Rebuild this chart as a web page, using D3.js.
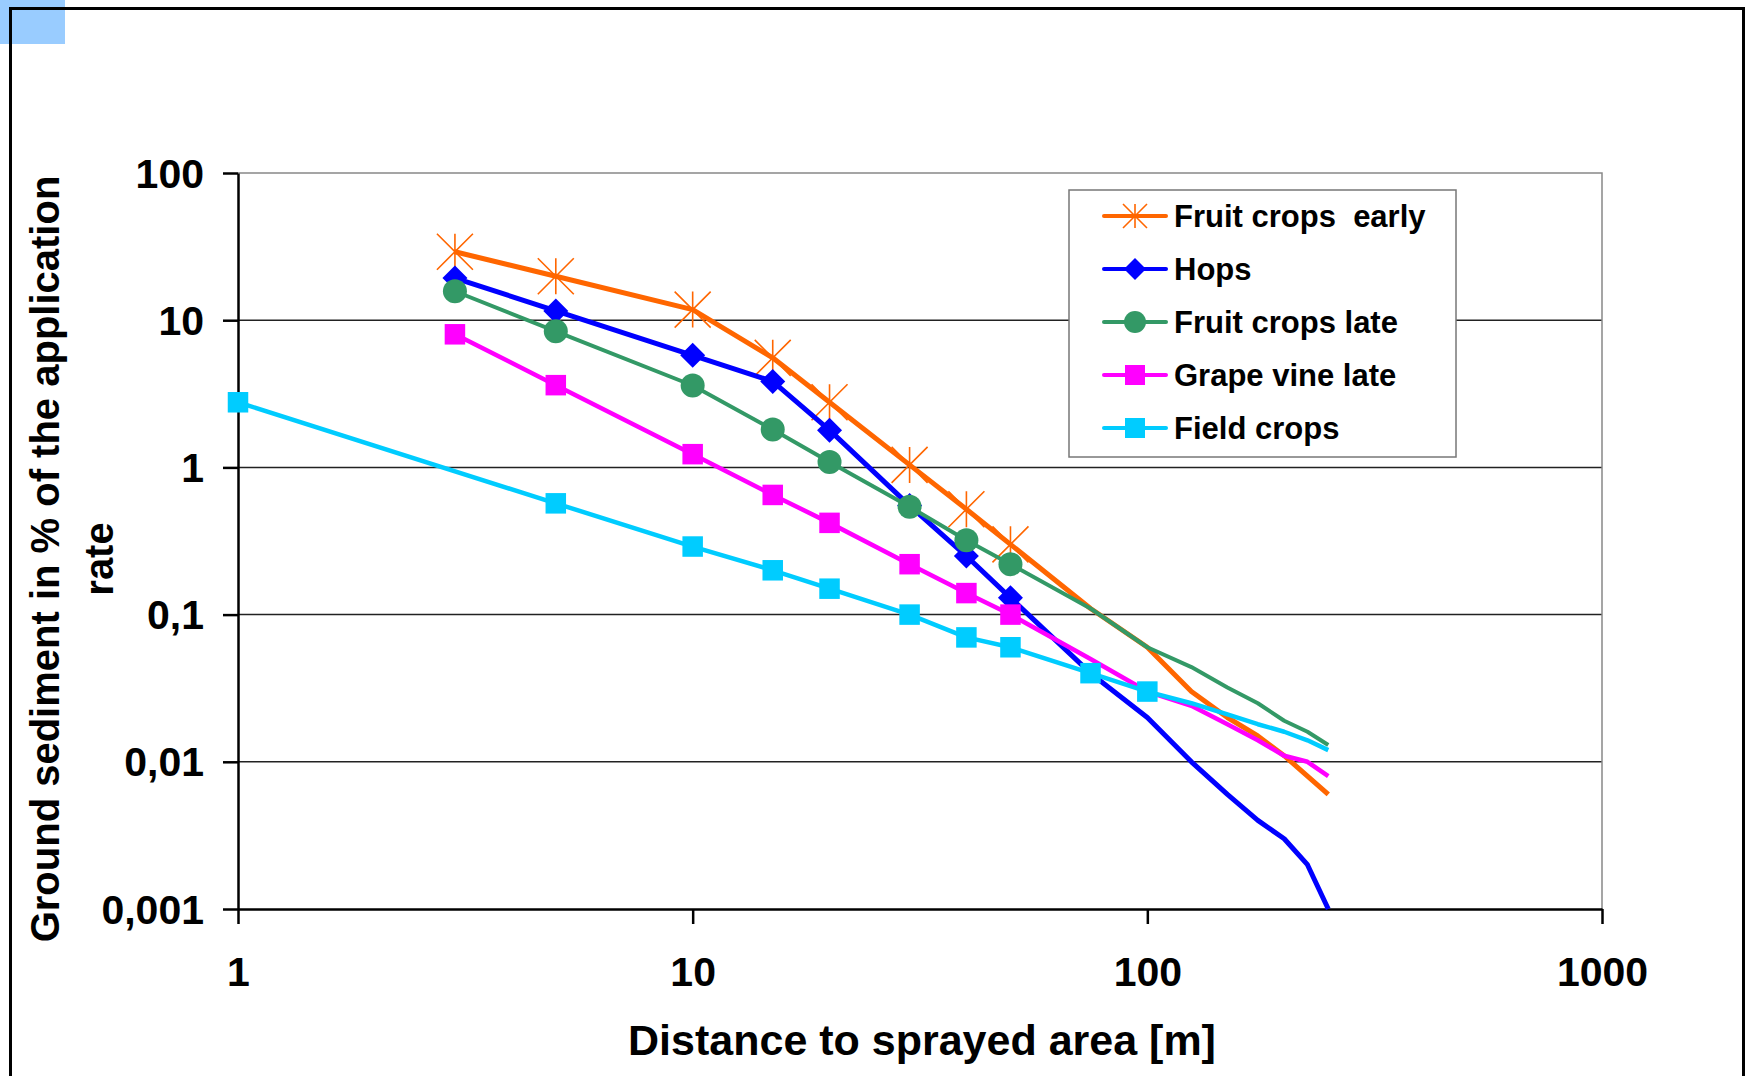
<!DOCTYPE html>
<html>
<head>
<meta charset="utf-8">
<script src="https://cdn.jsdelivr.net/npm/d3@7"></script>
<style>
    body { margin: 0; background: #ffffff; }
    svg { display: block; }
    text { font-family: "Liberation Sans", Arial, sans-serif; font-weight: bold; fill: #000; }
</style>
</head>
<body>
<div id="container"></div>
<script>
// distances in m, values in % of application rate (null = no value)
const distances   = [1, 3, 5, 10, 15, 20, 30, 40, 50, 75, 100, 125, 150, 175, 200, 225, 250];
const fruitEarly  = [null, 29.2, 19.89, 11.81, 5.55, 2.77, 1.04, 0.52, 0.30, 0.11, 0.06, 0.030, 0.020, 0.015, 0.011, 0.008, 0.006];
const hops        = [null, 19.33, 11.57, 5.77, 3.84, 1.79, 0.55, 0.25, 0.13, 0.04, 0.02, 0.010, 0.006, 0.004, 0.003, 0.002, 0.001];
const fruitLate   = [null, 15.73, 8.41, 3.60, 1.81, 1.09, 0.54, 0.32, 0.22, 0.11, 0.06, 0.044, 0.032, 0.025, 0.019, 0.016, 0.013];
const grapeLate   = [null, 8.02, 3.62, 1.23, 0.65, 0.42, 0.22, 0.14, 0.10, 0.05, 0.03, 0.024, 0.018, 0.014, 0.011, 0.010, 0.008];
const fieldCrops  = [2.77, null, 0.57, 0.29, 0.20, 0.15, 0.10, 0.07, 0.06, 0.04, 0.03, 0.025, 0.021, 0.018, 0.016, 0.014, 0.012];

const seriesNames = ['Fruit crops  early', 'Hops', 'Fruit crops late', 'Grape vine late', 'Field crops'];
const xTicks      = [1, 10, 100, 1000];
const xTickLabels = ['1', '10', '100', '1000'];
const yTicks      = [0.001, 0.01, 0.1, 1, 10, 100];
const yTickLabels = ['0,001', '0,01', '0,1', '1', '10', '100'];
const xTitle      = 'Distance to sprayed area [m]';
const yTitle      = ['Ground sediment in % of the application', 'rate'];

window.onload = function() {
    'use strict';

    const canvas = { width: 1752, height: 1076 };
    const plot = { left: 238, right: 1602, top: 173, bottom: 909 };

    const color = {
        orange: '#ff6600',
        blue: '#0000ff',
        green: '#339966',
        magenta: '#ff00ff',
        cyan: '#00ccff',
        grid: '#222222',
        border: '#888888'
    };

    const series = [
        { name: seriesNames[0], values: fruitEarly, color: color.orange,  width: 5,   marker: 'star',    markUntil: 50 },
        { name: seriesNames[1], values: hops,       color: color.blue,    width: 5,   marker: 'diamond', markUntil: 50 },
        { name: seriesNames[2], values: fruitLate,  color: color.green,   width: 4,   marker: 'circle',  markUntil: 50 },
        { name: seriesNames[3], values: grapeLate,  color: color.magenta, width: 4.5, marker: 'square',  markUntil: 50 },
        { name: seriesNames[4], values: fieldCrops, color: color.cyan,    width: 4.5, marker: 'square',  markUntil: 100 }
    ];

    const svg = d3.select('#container')
        .append('svg')
        .attr('width', canvas.width)
        .attr('height', canvas.height);

    // light blue corner + outer frame
    svg.append('rect')
        .attr('x', 0).attr('y', 0)
        .attr('width', 65).attr('height', 44)
        .attr('fill', '#99ccff');
    svg.append('rect')
        .attr('x', 10.5).attr('y', 8.5)
        .attr('width', 1733).attr('height', 1100)
        .attr('fill', 'none')
        .attr('stroke', '#000')
        .attr('stroke-width', 3);

    const x = d3.scaleLog().domain([1, 1000]).range([plot.left, plot.right]);
    const y = d3.scaleLog().domain([0.001, 100]).range([plot.bottom, plot.top]);

    // grid lines
    svg.append('g')
        .selectAll('line')
        .data(yTicks.slice(1, -1))
        .join('line')
        .attr('x1', plot.left).attr('x2', plot.right)
        .attr('y1', d => y(d)).attr('y2', d => y(d))
        .attr('stroke', color.grid)
        .attr('stroke-width', 1.5);

    // top and right border of plot area
    svg.append('path')
        .attr('d', `M${plot.left},${y(100)}H${x(1000)}V${plot.bottom}`)
        .attr('fill', 'none')
        .attr('stroke', color.border)
        .attr('stroke-width', 1.5);

    // axes
    const yAxis = d3.axisLeft(y)
        .tickValues(yTicks)
        .tickFormat((d, i) => yTickLabels[i])
        .tickSize(15)
        .tickSizeOuter(0)
        .tickPadding(19);
    const gy = svg.append('g')
        .attr('transform', `translate(${plot.left},0)`)
        .call(yAxis);

    const xAxis = d3.axisBottom(x)
        .tickValues(xTicks)
        .tickFormat((d, i) => xTickLabels[i])
        .tickSize(15)
        .tickSizeOuter(0);
    const gx = svg.append('g')
        .attr('transform', `translate(0,${plot.bottom})`)
        .call(xAxis);

    [gx, gy].forEach(g => {
        g.select('.domain').attr('stroke', '#000').attr('stroke-width', 2.5);
        g.selectAll('.tick line').attr('stroke', '#000').attr('stroke-width', 2.5);
        g.selectAll('.tick text')
            .attr('font-size', 41)
            .attr('font-family', '"Liberation Sans", Arial, sans-serif')
            .attr('font-weight', 'bold')
            .attr('fill', '#000');
    });
    gy.selectAll('.tick text').attr('dy', null).attr('y', 14);
    gx.selectAll('.tick text').attr('dy', null).attr('y', 77);

    // axis titles
    svg.append('text')
        .attr('x', (plot.left + plot.right) / 2 + 2)
        .attr('y', 1055)
        .attr('text-anchor', 'middle')
        .attr('font-size', 43)
        .text(xTitle);

    const yt = svg.append('g')
        .attr('transform', 'translate(59,559) rotate(-90)');
    yTitle.forEach((t, i) => {
        yt.append('text')
            .attr('x', 0)
            .attr('y', i * 54)
            .attr('text-anchor', 'middle')
            .attr('font-size', 40)
            .text(t);
    });

    function drawMarker(g, type, cx, cy, fill, big) {
        if (type === 'star') {
            const h = big ? 18 : 12;
            g.append('path')
                .attr('d', `M${cx},${cy - h}V${cy + h}M${cx - h},${cy - h}L${cx + h},${cy + h}M${cx + h},${cy - h}L${cx - h},${cy + h}`)
                .attr('stroke', fill)
                .attr('stroke-width', 1.6)
                .attr('fill', 'none');
        } else if (type === 'diamond') {
            const h = big ? 12.5 : 11;
            g.append('path')
                .attr('d', `M${cx},${cy - h}L${cx + h},${cy}L${cx},${cy + h}L${cx - h},${cy}Z`)
                .attr('fill', fill);
        } else if (type === 'circle') {
            g.append('circle')
                .attr('cx', cx).attr('cy', cy)
                .attr('r', big ? 12 : 11)
                .attr('fill', fill);
        } else {
            const s = big ? 20.5 : 20;
            g.append('rect')
                .attr('x', cx - s / 2).attr('y', cy - s / 2)
                .attr('width', s).attr('height', s)
                .attr('fill', fill);
        }
    }

    const line = d3.line()
        .x(p => x(p.d))
        .y(p => y(p.v));

    series.forEach(s => {
        const points = distances
            .map((d, i) => ({ d: d, v: s.values[i] }))
            .filter(p => p.v !== null);
        const g = svg.append('g');
        g.append('path')
            .datum(points)
            .attr('d', line)
            .attr('fill', 'none')
            .attr('stroke', s.color)
            .attr('stroke-width', s.width)
            .attr('stroke-linejoin', 'round');
        points.filter(p => p.d <= s.markUntil).forEach(p => {
            drawMarker(g, s.marker, x(p.d), y(p.v), s.color, true);
        });
    });

    // legend
    const legend = svg.append('g');
    legend.append('rect')
        .attr('x', 1069).attr('y', 190)
        .attr('width', 387).attr('height', 267)
        .attr('fill', '#fff')
        .attr('stroke', '#777')
        .attr('stroke-width', 1.5);

    series.forEach((s, i) => {
        const ry = 216 + i * 53;
        legend.append('line')
            .attr('x1', 1104).attr('x2', 1166)
            .attr('y1', ry).attr('y2', ry)
            .attr('stroke', s.color)
            .attr('stroke-width', 4)
            .attr('stroke-linecap', 'round');
        drawMarker(legend, s.marker, 1135, ry, s.color, false);
        legend.append('text')
            .attr('x', 1174)
            .attr('y', ry + 11)
            .attr('font-size', 31)
            .style('white-space', 'pre')
            .text(s.name);
    });
};
</script>
</body>
</html>
